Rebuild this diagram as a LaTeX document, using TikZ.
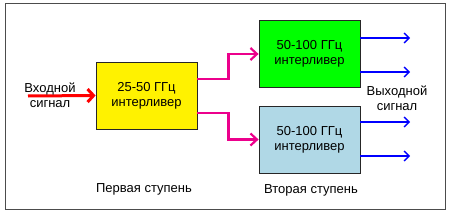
\documentclass[tikz,border=0pt]{standalone}
\usepackage{fontspec}
\setmainfont{Liberation Sans}
\usetikzlibrary{arrows.meta}

\definecolor{lightblue}{RGB}{176,216,230}
\tikzset{
  box/.style={draw=black!85, line width=0.8pt, minimum width=101pt, minimum height=67pt, align=center, inner sep=0pt},
  link/.style={draw=magenta, line width=2.2pt, -{Straight Barb[length=6.5pt,width=12pt]}},
  outarrow/.style={draw=blue, line width=1.4pt, -{Straight Barb[length=5pt,width=10pt]}},
  caption/.style={align=center, inner sep=0pt}
}

\begin{document}
\begin{tikzpicture}[x=1pt,y=-1pt,font=\fontsize{13}{15}\selectfont]
\path[use as bounding box] (0,0) rectangle (450,214);
\draw[line width=0.8pt, black!70] (5,3) rectangle (445,209);
% first stage
\node[box, fill=yellow] (stage1) at (146.5,95.5) {25-50 ГГц\\интерливер};
% second stage
\node[box, fill=green] (wdm1) at (309.5,54) {50-100 ГГц\\интерливер};
\node[box, fill=lightblue] (wdm2) at (309.5,139.5) {50-100 ГГц\\интерливер};
% input
\coordinate (in) at (28,96);
\draw[red, line width=3pt, -{Straight Barb[length=6pt,width=13pt]}] (in) -- (stage1.west);
\node[caption] (inlabel) at (50,95) {Входной\\сигнал};
% links between stages
\draw[link] ([yshift=16.5pt]stage1.east) -- ++(31,0) |- (wdm1.west);
\draw[link] ([yshift=-17.5pt]stage1.east) -- ++(31,0) |- (wdm2.west);
% outputs
\coordinate (o1) at (410,38);
\coordinate (o2) at (410,72);
\coordinate (o3) at (410,122);
\coordinate (o4) at (410,156);
\draw[outarrow] (wdm1.east |- o1) -- (o1);
\draw[outarrow] (wdm1.east |- o2) -- (o2);
\draw[outarrow] (wdm2.east |- o3) -- (o3);
\draw[outarrow] (wdm2.east |- o4) -- (o4);
\node[caption] (outlabel) at (397,98) {Выходной\\сигнал};
% stage labels
\node (first) at (144,189) {Первая ступень};
\node (second) at (311,190) {Вторая ступень};
\end{tikzpicture}
\end{document}
